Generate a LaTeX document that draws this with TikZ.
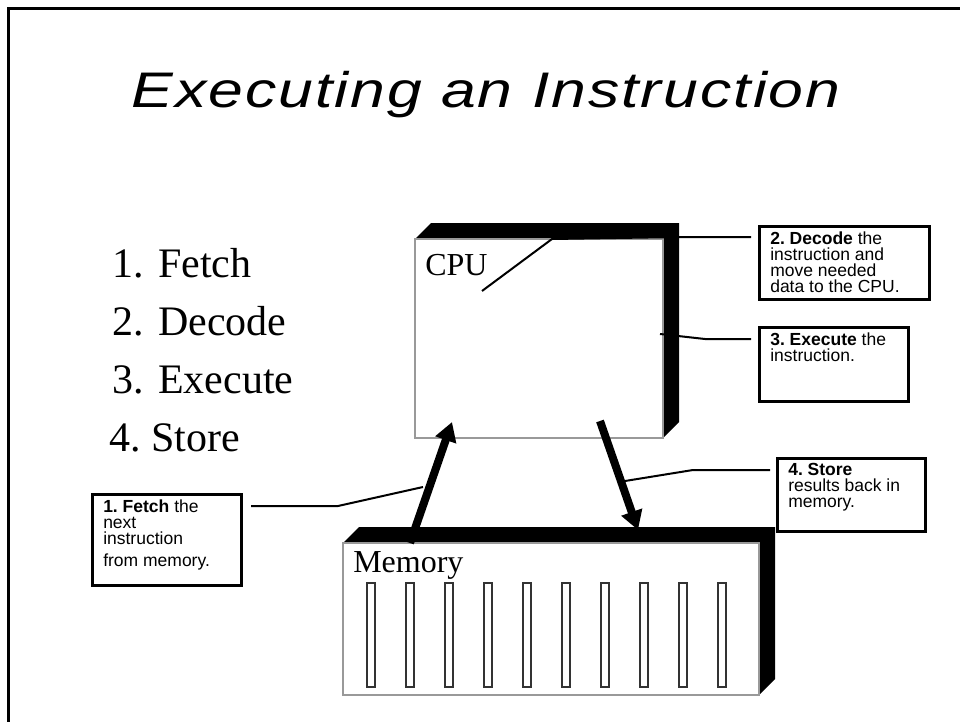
\documentclass[tikz,border=0pt]{standalone}
\usepackage{fontspec}
\setmainfont{Liberation Serif}
\newfontfamily\calloutfont{Liberation Sans}
\newfontfamily\titlefont[FakeStretch=1.25,LetterSpace=4]{Liberation Sans}
\usetikzlibrary{arrows.meta,calc}

\newlength\unitpx
\setlength\unitpx{0.75pt}
\frenchspacing

\tikzset{
  callout/.style={draw,line width=3\unitpx,anchor=north west,inner sep=0pt},
  callout text/.style={anchor=north west,inner sep=0pt,align=left,
    font=\calloutfont\fontsize{17.5\unitpx}{16\unitpx}\selectfont},
  lead/.style={line width=2\unitpx},
  bus/.style={line width=8\unitpx,-{Triangle[length=14.25pt,width=15.75pt]}},
  face/.style={fill=white,draw=black!40,line width=1.5\unitpx},
  steptext/.style={anchor=base west,inner sep=0pt,font=\fontsize{42\unitpx}{50\unitpx}\selectfont},
  unitlabel/.style={anchor=base west,inner sep=0pt,font=\fontsize{32\unitpx}{38\unitpx}\selectfont},
}

\begin{document}
\begin{tikzpicture}[x=0.75pt,y=-0.75pt]
  \useasboundingbox (0,0) rectangle (960,721);
  \clip (0,0) rectangle (960,721);
  \draw[line width=3\unitpx] (8,8) rectangle (1000,800);

  \node[anchor=base,inner sep=0pt] (title) at (486,107)
    {\titlefont\itshape\fontsize{50\unitpx}{60\unitpx}\selectfont Executing an Instruction};

  \node[steptext] (fetch) at (112,277) {\makebox[46\unitpx][l]{1.}Fetch};
  \node[steptext] (decode) at (112,335) {\makebox[46\unitpx][l]{2.}Decode};
  \node[steptext] (execute) at (112,393) {\makebox[46\unitpx][l]{3.}Execute};
  \node[steptext] (store) at (109,451) {4. Store};

  % CPU
  \fill (415,239) -- (431,223) -- (679,223) -- (679,422) -- (663,438) -- (663,239) -- cycle;
  \draw[face] (415,239) rectangle (663,438);
  \node[unitlabel] (cpu) at (425,275) {CPU};

  % memory
  \fill (343,543) -- (359,527) -- (775,527) -- (775,679) -- (759,695) -- (759,543) -- cycle;
  \draw[face] (343,543) rectangle (759,695);
  \node[unitlabel] (memory) at (353,572) {Memory};
  \foreach \i in {0,...,9}
    \draw[black!80,line width=1.2\unitpx] (367+39*\i,583) rectangle +(8,104);

  \coordinate (fetchfrom) at (410,543);
  \coordinate (fetchto) at (452,422);
  \coordinate (storefrom) at (600,421);
  \coordinate (storeto) at (638,530);
  \draw[bus] (fetchfrom) -- (fetchto);
  \draw[bus] (storefrom) -- (storeto);

  % callouts
  \node[callout,minimum width=170\unitpx,minimum height=73\unitpx] (decbox) at (758,225) {};
  \node[callout text] (dectext) at (770,232)
    {\textbf{2. Decode} the\\instruction and\\move needed\\data to the CPU.};
  \node[callout,minimum width=149\unitpx,minimum height=74\unitpx] (exebox) at (758,326) {};
  \node[callout text] (exetext) at (770,333)
    {\textbf{3. Execute} the\\instruction.};
  \node[callout,minimum width=149\unitpx,minimum height=91\unitpx] (fetbox) at (91,493) {};
  \node[callout text] (fettext) at (103,500)
    {\textbf{1. Fetch} the\\next\\instruction\\[6\unitpx]from memory.};
  \node[callout,minimum width=148\unitpx,minimum height=73\unitpx] (stobox) at (776,457) {};
  \node[callout text] (stotext) at (788,463)
    {\textbf{4. Store}\\results back in\\memory.};

  \coordinate (decin) at (482,291);
  \coordinate (exein) at (660,334);
  \coordinate (fetin) at (423,487);
  \coordinate (stoin) at (625,481);
  \draw[lead] (decin) -- (552,239) -- (680,237) -- ($(decbox.north west)+(-7,12)$);
  \draw[lead] (exein) -- (705,339) -- ($(exebox.north west)+(-7,13)$);
  \draw[lead] (fetin) -- (338,506) -- ($(fetbox.north east)+(8,13)$);
  \draw[lead] (stoin) -- (693,470) -- ($(stobox.north west)+(-6,13)$);
\end{tikzpicture}
\end{document}
